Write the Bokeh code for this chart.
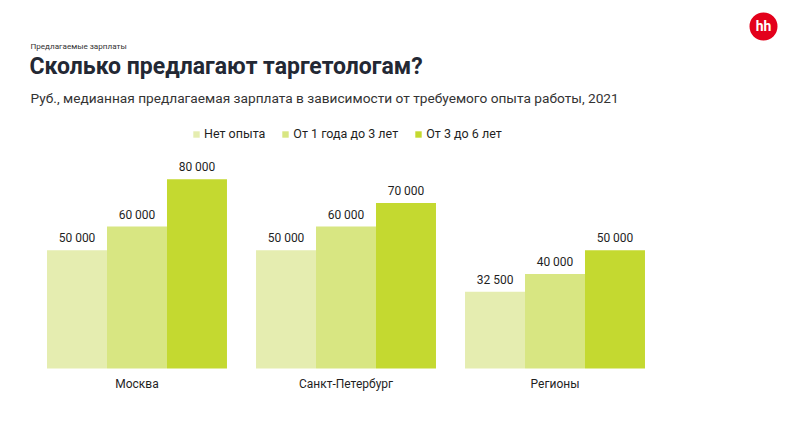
from bokeh.plotting import figure
from bokeh.models import ColumnDataSource, Range1d, Label, Legend, LegendItem
from bokeh.core.properties import value
from bokeh.embed import file_html
from bokeh.resources import INLINE

# ---- data ----
regions = ["Москва", "Санкт-Петербург", "Регионы"]
series_names = ["Нет опыта", "От 1 года до 3 лет", "От 3 до 6 лет"]
no_exp = [50000, 50000, 32500]
exp_1_3 = [60000, 60000, 40000]
exp_3_6 = [80000, 70000, 50000]
series_values = [no_exp, exp_1_3, exp_3_6]

colors = ["#e5edb0", "#d8e682", "#c4d930"]

W, H = 780, 436
FONT = "Roboto"
X0, X1 = -0.6531, 3.0789
Y0, Y1 = -28753, 155603

p = figure(width=W, height=H, output_backend="svg", toolbar_location=None,
           x_range=Range1d(X0, X1), y_range=Range1d(Y0, Y1),
           min_border=0, min_border_left=0, min_border_right=0,
           min_border_top=0, min_border_bottom=0)
p.axis.visible = False
p.grid.visible = False
p.outline_line_color = None
p.background_fill_color = "white"
p.border_fill_color = "white"

bar_w = 0.287
offsets = [-bar_w, 0.0, bar_w]
group_x = list(range(len(regions)))

legend_items = []
for k, (name, vals) in enumerate(zip(series_names, series_values)):
    xs = [g + offsets[k] for g in group_x]
    labels = [f"{v:,}".replace(",", " ") for v in vals]
    src = ColumnDataSource(dict(x=xs, top=vals, lab=labels))
    r = p.vbar(x="x", top="top", bottom=0, width=bar_w, source=src,
               fill_color=colors[k], line_color=None)
    p.text(x="x", y="top", text="lab", source=src, text_align="center",
           text_baseline="middle", y_offset=-12, text_font=value(FONT),
           text_font_size="12px", text_color="#1f1f1f")
    legend_items.append(LegendItem(label=name, renderers=[r]))

cat_src = ColumnDataSource(dict(x=group_x, y=[0] * len(regions), t=regions))
p.text(x="x", y="y", text="t", source=cat_src, text_align="center",
       text_baseline="middle", y_offset=16, text_font=value(FONT),
       text_font_size="12px", text_color="#1f1f1f")

legend = Legend(items=legend_items, orientation="horizontal",
                location=(192, 295), glyph_width=8, glyph_height=8,
                label_standoff=4, spacing=16, padding=0, margin=0,
                label_text_font=FONT, label_text_font_size="12.5px",
                label_text_color="#1f1f1f", label_height=14,
                border_line_color=None, background_fill_alpha=0)
p.add_layout(legend)

# ---- titles (screen units, origin bottom-left of frame) ----
p.add_layout(Label(x=30, y=H - 45, x_units="screen", y_units="screen",
                   text="Предлагаемые зарплаты", text_font=FONT,
                   text_font_size="8.1px", text_color="#333333",
                   text_baseline="middle"))
p.add_layout(Label(x=29, y=H - 66, x_units="screen", y_units="screen",
                   text="Сколько предлагают таргетологам?", text_font=FONT,
                   text_font_size="23px", text_font_style="bold",
                   text_color="#232834", text_baseline="middle"))
p.add_layout(Label(x=30, y=H - 97, x_units="screen", y_units="screen",
                   text="Руб., медианная предлагаемая зарплата в зависимости от требуемого опыта работы, 2021",
                   text_font=FONT, text_font_size="13.7px",
                   text_color="#333333", text_baseline="middle"))

# ---- hh logo ----
lx = X0 + 763 * (X1 - X0) / W
ly = Y1 - 26 * (Y1 - Y0) / H
p.scatter(x=[lx], y=[ly], size=28, marker="circle", fill_color="#e3001b",
          line_color=None)
p.text(x=[lx], y=[ly], text=["hh"], text_align="center", text_baseline="middle",
       text_font=value(FONT), text_font_style="bold", text_font_size="14px",
       text_color="white", y_offset=-1)

open("out.html", "w").write(file_html(p, INLINE))
